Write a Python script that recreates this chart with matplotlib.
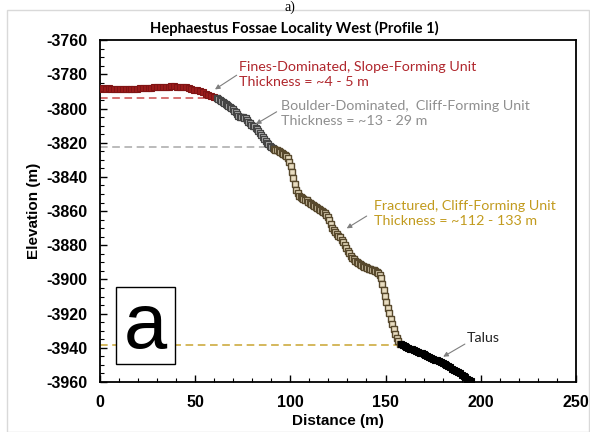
import matplotlib
matplotlib.use('Agg')
import matplotlib.pyplot as plt
from matplotlib.patches import Rectangle
from matplotlib.ticker import MultipleLocator

plt.rcParams['axes.unicode_minus'] = False

# Fines-dominated, slope-forming unit (red)
fines_x = [0, 1.5, 3, 4.5, 6, 7.5, 9, 10.5, 12, 13.5, 15, 16.5, 18, 19.5, 21, 22.5,
           24, 25.5, 27, 28.5, 30, 31.5, 33, 34.5, 36, 37.5, 39, 40.5, 42, 43.5, 45,
           46.5, 48, 49.5, 51, 52.5, 54, 55.5, 57, 58.5, 60, 61.5]
fines_y = [-3788.3, -3788.2, -3788.3, -3788.2, -3788.3, -3788.4, -3788.3, -3788.4,
           -3788.5, -3788.4, -3788.5, -3788.4, -3788.3, -3788.3, -3788.2, -3788.0,
           -3788.0, -3787.8, -3787.8, -3787.6, -3787.5, -3787.4, -3787.3, -3787.2,
           -3787.2, -3787.1, -3787.1, -3787.2, -3787.2, -3787.3, -3787.5, -3787.9,
           -3788.4, -3788.9, -3789.4, -3790.0, -3790.6, -3791.2, -3791.9, -3792.6,
           -3793.3, -3794.0]

# Boulder-dominated, cliff-forming unit (grey)
boulder_x = [61.5, 62.2, 63.0, 63.7, 64.5, 65.2, 66.0, 66.7, 67.5, 68.2, 69.0, 69.7,
             70.5, 71.2, 72.0, 72.7, 73.5, 74.2, 75.0, 75.7, 76.5, 77.2, 78.0, 78.7,
             79.5, 80.2, 81.0, 81.7, 82.5, 83.2, 84.0, 84.7, 85.5, 86.2, 87.0, 87.7,
             88.5, 89.2, 90.0, 90.7]
boulder_y = [-3794.0, -3794.6, -3795.2, -3795.7, -3796.2, -3796.8, -3797.4, -3798.0,
             -3798.6, -3799.2, -3799.8, -3800.5, -3801.3, -3802.2, -3803.2, -3804.1,
             -3804.7, -3805.0, -3805.1, -3805.3, -3805.8, -3806.6, -3807.6, -3808.6,
             -3809.4, -3810.0, -3810.5, -3811.2, -3812.2, -3813.3, -3814.4, -3815.5,
             -3816.5, -3817.6, -3818.8, -3820.0, -3821.0, -3821.9, -3822.6, -3823.1]

# Fractured, cliff-forming unit (tan)
fract_x = [91.4, 92.2, 93.0, 93.8, 94.6, 95.4, 96.2, 97.0, 97.8, 98.6, 99.4, 100.2,
           100.9, 101.6, 102.3, 103.0, 103.8, 104.6, 105.4, 106.1, 106.9, 107.7,
           108.5, 109.3, 110.1, 110.9, 111.7, 112.5, 113.3, 114.1, 114.9, 115.7, 116.5,
           117.3, 118.1, 118.9, 119.7, 120.5, 121.3, 122.1, 122.9, 123.7, 124.5, 125.3,
           126.1, 126.9, 127.7, 128.5, 129.3, 130.1, 130.9, 131.7, 132.5, 133.3, 134.1,
           134.9, 135.7, 136.5, 137.3, 138.1, 138.9, 139.7, 140.5, 141.3, 142.1, 142.9,
           143.7, 144.5, 145.3, 146.1, 146.9, 147.6, 148.3, 149.0, 149.7, 150.4, 151.1,
           151.9, 152.7, 153.5, 154.3, 155.1, 155.9, 156.7, 157.6]
fract_y = [-3823.5, -3824.0, -3824.4, -3824.8, -3825.3, -3825.8, -3826.4, -3827.0,
           -3827.9, -3829.2, -3831.0, -3833.6, -3837.2, -3840.8, -3844.3, -3847.4,
           -3849.6, -3850.9, -3851.7, -3852.3, -3852.8, -3853.3, -3853.8, -3854.5,
           -3855.2, -3855.9, -3856.5, -3857.1, -3857.7, -3858.3, -3859.0, -3859.6,
           -3860.1, -3860.6, -3861.3, -3862.2, -3863.4, -3865.2, -3867.4, -3869.6,
           -3871.3, -3872.5, -3873.4, -3874.3, -3875.4, -3876.7, -3878.2, -3879.8,
           -3881.5, -3883.2, -3884.7, -3886.0, -3887.2, -3888.2, -3889.0, -3889.8,
           -3890.5, -3891.1, -3891.6, -3892.1, -3892.5, -3892.9, -3893.3, -3893.7,
           -3894.0, -3894.3, -3894.6, -3895.0, -3895.5, -3896.2, -3897.2, -3899.2,
           -3902.4, -3906.0, -3909.6, -3913.2, -3916.6, -3919.8, -3923.0, -3926.1,
           -3929.0, -3931.7, -3934.0, -3936.0, -3937.6]

# Talus (black)
talus_x = [158.4, 159, 160, 161, 162, 163, 164, 165, 166, 167, 168, 169, 170, 171,
           172, 173, 174, 175, 176, 177, 178, 179, 180, 181, 182, 183, 184, 185, 186,
           187, 188, 189, 190, 191, 192, 193, 194, 195]
talus_y = [-3937.6, -3938.2, -3938.9, -3939.4, -3939.9, -3940.4, -3940.9, -3941.4,
           -3941.9, -3942.4, -3942.9, -3943.3, -3943.8, -3944.3, -3944.8, -3945.3,
           -3945.8, -3946.3, -3946.9, -3947.4, -3947.9, -3948.4, -3949.0, -3949.6,
           -3950.2, -3950.9, -3951.5, -3952.2, -3952.9, -3953.6, -3954.3, -3955.0,
           -3955.7, -3956.5, -3957.2, -3958.0, -3958.8, -3959.6]

# unit boundaries (dashed): elevation, end distance
fines_base, fines_end = -3794.0, 61.5
boulder_base, boulder_end = -3822.7, 87.0
fract_base, fract_end = -3938.2, 157.5

tick_font = 'Liberation Sans'
note_font = 'Lato'

fig = plt.figure(figsize=(5.9, 4.32), dpi=100)
ax = fig.add_axes([0.1695, 0.1157, 0.8065, 0.7913])

# light frame around the panel
fig.patches.append(Rectangle((7/590, 0), 1 - 7/590 - 0.001, 1 - 10/432,
                             transform=fig.transFigure, fill=False,
                             edgecolor='#d9d9d9', lw=1))
fig.text(0.492, 0.999, 'a)', ha='center', va='top', fontsize=10,
         family='Liberation Serif')

ax.plot([0, fines_end], [fines_base]*2, ls=(0, (5, 3)), color='#cc4a4a', lw=1.1, zorder=1)
ax.plot([0, boulder_end], [boulder_base]*2, ls=(0, (5, 3)), color='#a8a8a8', lw=1.1, zorder=1)
ax.plot([0, fract_end], [fract_base]*2, ls=(0, (5, 3)), color='#c9a430', lw=1.1, zorder=1)

ax.plot(fines_x, fines_y, 's', ms=4.6, mfc='#9c1c1c', mec='#801414', mew=0.8, zorder=3)
ax.plot(boulder_x, boulder_y, 's', ms=4.2, mfc='#b8b8b8', mec='#444444', mew=0.9, zorder=3)
ax.plot(fract_x, fract_y, 's', ms=4.4, mfc='#e8dcc0', mec='#57482c', mew=1.0, zorder=3)
ax.plot(talus_x, talus_y, 's', ms=4.2, mfc='black', mec='black', mew=0.8, zorder=3)

ax.set_xlim(0, 250)
ax.set_ylim(-3960, -3760)
ax.xaxis.set_major_locator(MultipleLocator(50))
ax.xaxis.set_minor_locator(MultipleLocator(10))
ax.yaxis.set_major_locator(MultipleLocator(20))
ax.yaxis.set_minor_locator(MultipleLocator(5))
ax.tick_params(which='both', direction='in', top=False, right=False)
ax.tick_params(which='major', length=5, width=1, pad=9)
ax.tick_params(which='minor', length=3, width=0.8)
for lab in ax.get_xticklabels() + ax.get_yticklabels():
    lab.set_fontfamily(tick_font)
    lab.set_fontweight('bold')
    lab.set_fontsize(11.5)
for sp in ax.spines.values():
    sp.set_linewidth(1.3)

ax.set_xlabel('Distance (m)', family=tick_font, fontweight='bold', fontsize=11, labelpad=3)
ax.set_ylabel('Elevation (m)', family=tick_font, fontweight='bold', fontsize=11, labelpad=4)
fig.text(0.498, 1 - 28/432, 'Hephaestus Fossae Locality West (Profile 1)', family=note_font,
         fontweight='bold', fontsize=10.6, ha='center', va='center')

notes = [
    ('Fines-Dominated, Slope-Forming Unit\nThickness = ~4 - 5 m', '#b0272d',
     (73.2, -3779.8), (60.4, -3788.8), (71.8, -3780.5)),
    ('Boulder-Dominated,  Cliff-Forming Unit\nThickness = ~13 - 29 m', '#8f8f8f',
     (94.9, -3802.9), (81.9, -3809.1), (92.8, -3801.9)),
    ('Fractured, Cliff-Forming Unit\nThickness = ~112 - 133 m', '#c29b1e',
     (143.9, -3861.4), (129.6, -3870.1), (140.1, -3862.9)),
    ('Talus', '#222222', (192.6, -3934.4), (180.3, -3945.2), (191.7, -3937.8)),
]
for txt, col, pos, tip, tail in notes:
    ax.text(pos[0], pos[1], txt, color=col, family=note_font, fontsize=10.3,
            ha='left', va='center', linespacing=1.3)
    ax.annotate('', xy=tip, xytext=tail,
                arrowprops=dict(arrowstyle='-|>', color='#7f7f7f', lw=0.8,
                                mutation_scale=7, shrinkA=0, shrinkB=0))

ax.add_patch(Rectangle((8.4, -3949.3), 30.8, 45.0, facecolor='white',
                       edgecolor='black', lw=1, zorder=4))
ax.text(23.8, -3928.0, 'a', ha='center', va='center', fontsize=56,
        family=tick_font, zorder=5)

fig.savefig('out.png', dpi=100)
